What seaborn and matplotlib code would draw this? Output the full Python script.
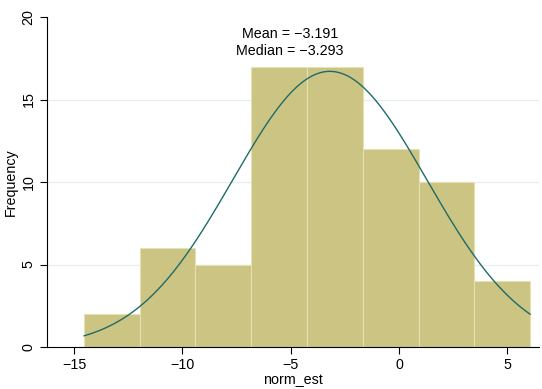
import numpy as np
import pandas as pd
import matplotlib
matplotlib.use("Agg")
import matplotlib.pyplot as plt
import seaborn as sns

# Histogram of norm_est: bin edges and frequencies
bin_edges = [-14.54, -11.97, -9.40, -6.82, -4.23, -1.66, 0.91, 3.48, 6.06]
counts = [2, 6, 5, 17, 17, 12, 10, 4]
mean_val = -3.191
median_val = -3.293
sd_val = 4.48

x_ticks = [-15, -10, -5, 0, 5]
y_ticks = [0, 5, 10, 15, 20]

sns.set_theme(style="white")
plt.rcParams["font.family"] = ["Liberation Sans", "DejaVu Sans"]
plt.rcParams["text.color"] = "black"
plt.rcParams["axes.labelcolor"] = "black"
plt.rcParams["xtick.color"] = "black"
plt.rcParams["ytick.color"] = "black"

FS = 10.3

centers = [(a + b) / 2 for a, b in zip(bin_edges[:-1], bin_edges[1:])]
df = pd.DataFrame({"norm_est": centers, "n": counts})

fig = plt.figure(figsize=(5.42, 3.89), dpi=100)
ax = fig.add_axes([46.7 / 542, 1 - 347 / 389, (538.7 - 46.7) / 542, (347 - 17) / 389])

for g in [5, 10, 15]:
    ax.axhline(g, color="#e6eef3", lw=0.9, zorder=0)

sns.histplot(data=df, x="norm_est", weights="n", bins=bin_edges, ax=ax,
             color="#cbc483", alpha=1, edgecolor="#e6e1b4", linewidth=0.8, zorder=2)

# Normal density scaled to frequency
width = bin_edges[1] - bin_edges[0]
n_total = sum(counts)
xs = np.linspace(bin_edges[0], bin_edges[-1], 400)
ys = n_total * width / (sd_val * np.sqrt(2 * np.pi)) * np.exp(-0.5 * ((xs - mean_val) / sd_val) ** 2)
sns.lineplot(x=xs, y=ys, ax=ax, color="#1f6b68", lw=1.0, zorder=3)

ax.set_xlim(-16.26, 6.45)
ax.set_ylim(0, 20)
ax.set_xticks(x_ticks)
ax.set_xticklabels(["\u221215", "\u221210", "\u22125", "0", "5"])
ax.set_yticks(y_ticks)
ax.set_yticklabels([str(t) for t in y_ticks], rotation=90, va="center")
ax.tick_params(axis="both", direction="out", length=5, width=0.8, color="black",
               labelcolor="black", labelsize=FS, pad=3, bottom=True, left=True)
for s in ["top", "right"]:
    ax.spines[s].set_visible(False)
for s in ["left", "bottom"]:
    ax.spines[s].set_color("black")
    ax.spines[s].set_linewidth(0.8)

ax.set_xlabel("norm_est", fontsize=FS, labelpad=1, color="black")
ax.set_ylabel("Frequency", fontsize=FS, labelpad=3, color="black")

fig.text(290 / 542, 1 - 34 / 389, f"Mean = \u2212{abs(mean_val):.3f}",
         ha="center", va="center", fontsize=FS, color="black")
fig.text(290 / 542, 1 - 51 / 389, f"Median = \u2212{abs(median_val):.3f}",
         ha="center", va="center", fontsize=FS, color="black")

fig.savefig("out.png", dpi=100)
